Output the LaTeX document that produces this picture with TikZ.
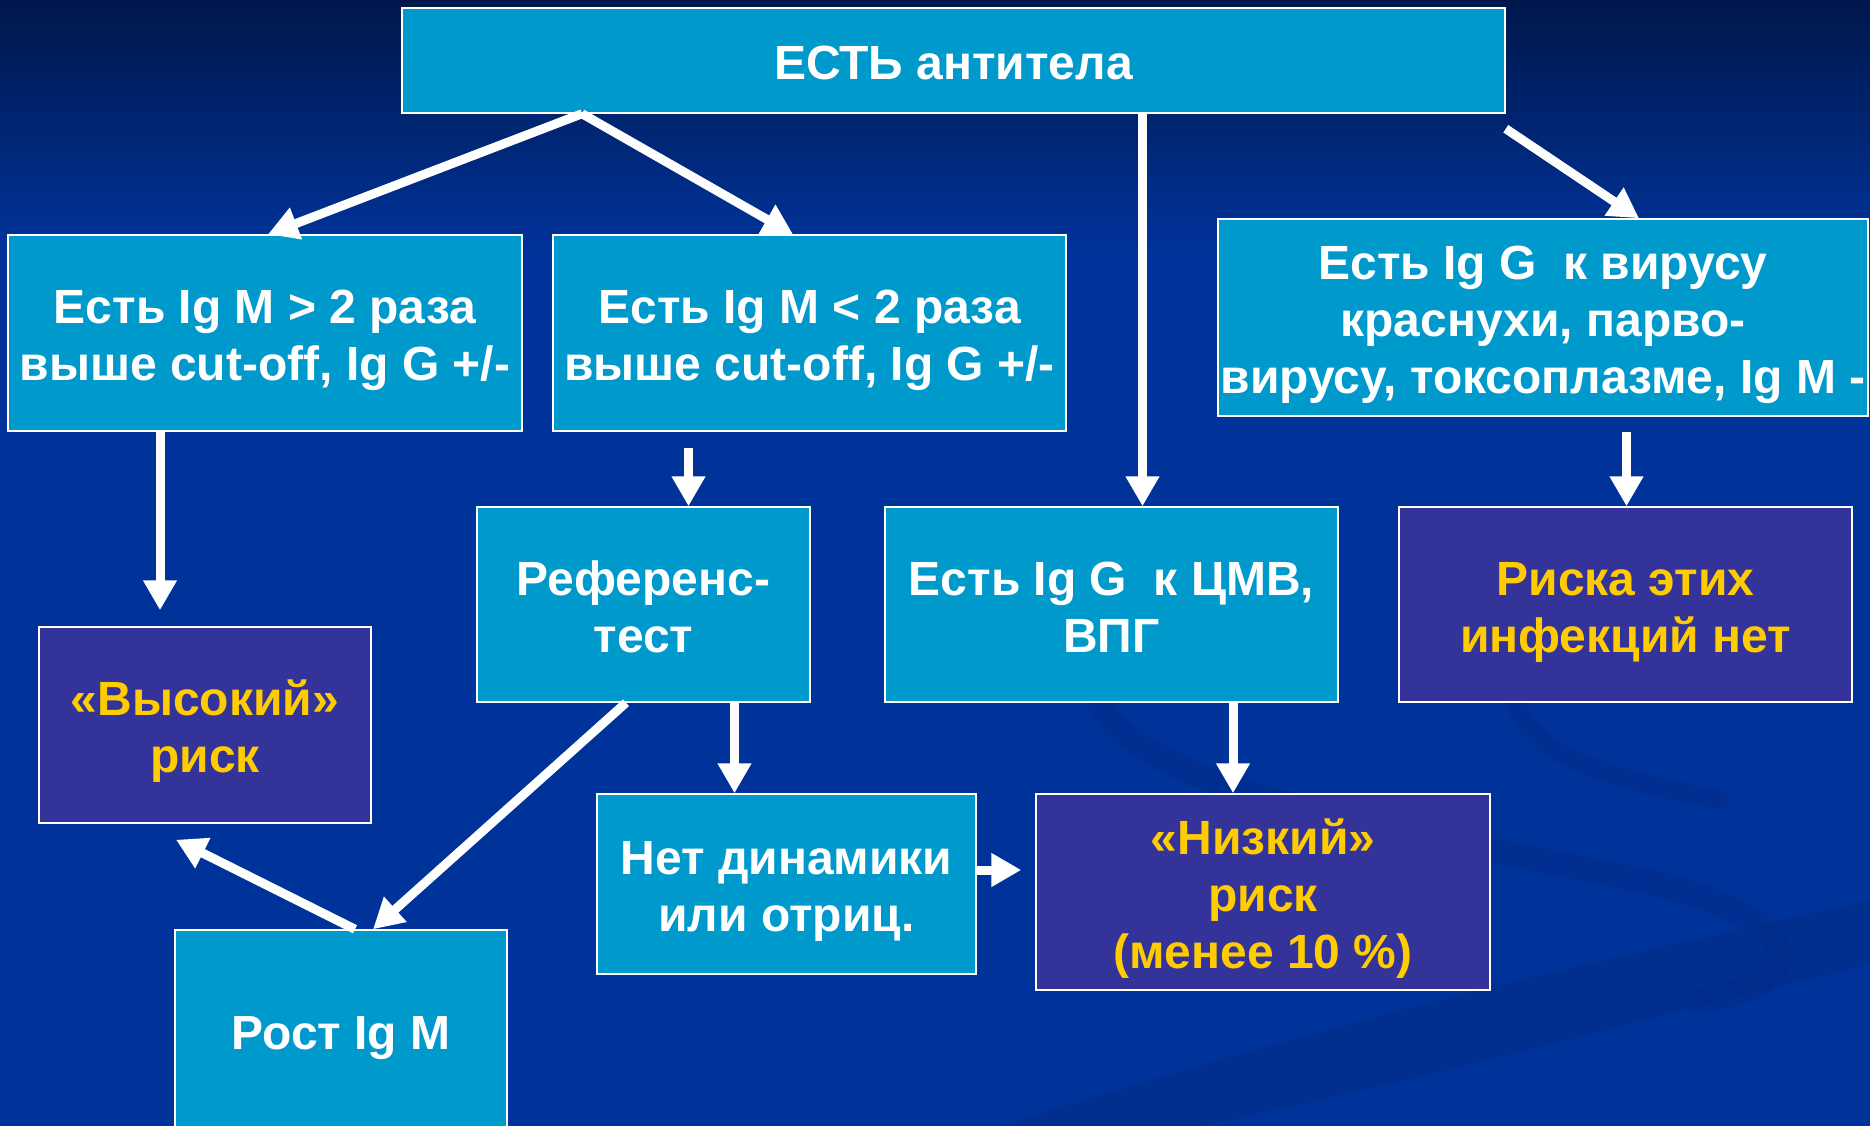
\documentclass[tikz,border=0pt]{standalone}
\usepackage{fontspec}
\setmainfont{Liberation Sans}
\usetikzlibrary{arrows.meta,calc}
\definecolor{boxcyan}{HTML}{0099CC}
\definecolor{boxpurple}{HTML}{333399}
\definecolor{boxyellow}{HTML}{FFCC00}
\definecolor{bgtop}{HTML}{00174A}
\definecolor{bgbot}{HTML}{003399}
\definecolor{swoosh}{HTML}{002C88}
\newcommand{\ts}{\rule{0pt}{50.4pt}}
\newcommand{\bs}{\rule[-12pt]{0pt}{12pt}}
\begin{document}
\begin{tikzpicture}[x=1pt,y=-1pt,
  every node/.style={font=\fontsize{48}{57}\selectfont\bfseries, align=center, inner sep=0pt},
  cbox/.style={draw=white, line width=1.5pt, fill=boxcyan, text=white},
  pbox/.style={draw=white, line width=1.5pt, fill=boxpurple, text=boxyellow},
  arr/.style={draw=white, line width=9pt, -{Triangle[length=30pt,width=32pt]}},
  swirl/.style={draw=swoosh, opacity=0.45, line cap=round}]
% background
\fill[bgbot] (0,0) rectangle (1870,1126);
\shade[top color=bgtop, bottom color=bgbot] (0,0) rectangle (1870,250);
\useasboundingbox (0,0) rectangle (1870,1126);
\fill[swoosh, opacity=0.5] (1000,1126) .. controls (1400,1000) and (1650,950) .. (1870,900) -- (1870,965) .. controls (1650,1015) and (1450,1075) .. (1200,1126) -- cycle;
\draw[swirl, line width=26pt] (1100,700) .. controls (1130,790) and (1400,830) .. (1640,880) .. controls (1820,920) and (1810,985) .. (1700,1000);
\draw[swirl, line width=20pt] (1515,700) .. controls (1530,760) and (1620,780) .. (1720,800);
% nodes
\node[cbox, minimum width=1103pt, minimum height=105pt] (top) at (953.5,60.5) {\ts ЕСТЬ антитела\bs};
\node[cbox, minimum width=514pt, minimum height=196pt] (a) at (265,333) {\ts Есть Ig M > 2 раза\\выше cut-off, Ig G +/-\bs};
\node[cbox, minimum width=513pt, minimum height=196pt] (b) at (809.5,333) {\ts Есть Ig M < 2 раза\\выше cut-off, Ig G +/-\bs};
\node[cbox, minimum width=650pt, minimum height=197pt] (c) at (1543,317.5) {\ts Есть Ig G\ \ к вирусу\\краснухи, парво-\\вирусу, токсоплазме, Ig M -\bs};
\node[cbox, minimum width=333pt, minimum height=195pt] (d) at (643.5,604.5) {\ts Референс-\\тест\bs};
\node[cbox, minimum width=453pt, minimum height=195pt] (e) at (1111.5,604.5) {\ts Есть Ig G\ \ к ЦМВ,\\ВПГ\bs};
\node[pbox, minimum width=453pt, minimum height=195pt] (f) at (1625.5,604.5) {\ts Риска этих\\инфекций нет\bs};
\node[pbox, minimum width=332pt, minimum height=196pt] (g) at (205,725) {\ts «Высокий»\\риск\bs};
\node[cbox, minimum width=379pt, minimum height=180pt] (h) at (786.5,884) {\ts Нет динамики\\или отриц.\bs};
\node[pbox, minimum width=454pt, minimum height=196pt] (i) at (1263,892) {\ts «Низкий»\\риск\\(менее 10 \%)\bs};
\node[cbox, minimum width=332pt, minimum height=200pt] (j) at (341,1030) {\ts Рост Ig M\bs};
% connectors
\coordinate (gtip) at ([xshift=-45pt,yshift=16pt]g.north);
\draw[arr] ([xshift=-371.5pt]top.south) -- ([xshift=3pt]a.north);
\draw[arr] ([xshift=-371.5pt]top.south) -- ([xshift=-16.5pt]b.north);
\draw[arr] ([xshift=189pt]top.south) -- ([xshift=31pt]e.north);
\draw[arr] ([yshift=-15pt]top.south east) -- ([xshift=96pt]c.north);
\draw[arr] ([xshift=-105pt]a.south) -- (gtip);
\draw[arr] ([xshift=-121pt,yshift=-16pt]b.south) -- ([xshift=45pt]d.north);
\draw[arr] ([xshift=83.5pt,yshift=-15pt]c.south) -- ([xshift=1pt]f.north);
\draw[arr] ([xshift=-17.5pt]d.south) -- ([xshift=32pt]j.north);
\draw[arr] ([xshift=91pt]d.south) -- ([xshift=-52pt]h.north);
\draw[arr] ([xshift=121.5pt]e.south) -- ([xshift=-30pt]i.north);
\draw[arr] ([yshift=14pt]h.east) -- ([xshift=-14pt,yshift=22pt]i.west);
\draw[arr] ([xshift=14pt]j.north) -- ([xshift=-29pt,yshift=-16pt]g.south);
\end{tikzpicture}
\end{document}
